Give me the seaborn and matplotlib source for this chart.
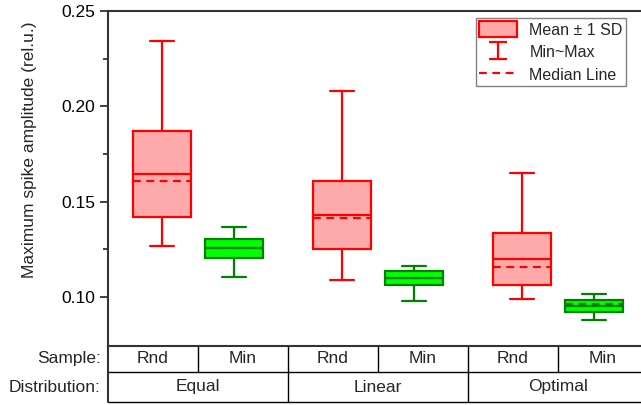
import numpy as np
import pandas as pd
import matplotlib
matplotlib.use("Agg")
import matplotlib.pyplot as plt
from matplotlib.patches import Patch
from matplotlib.lines import Line2D
from matplotlib.ticker import MultipleLocator, FixedLocator, FormatStrFormatter
from matplotlib.legend_handler import HandlerErrorbar
import matplotlib.transforms as mtransforms
import seaborn as sns

# ---- data -------------------------------------------------------------
distributions = ["Equal", "Linear", "Optimal"]
samples = ["Rnd", "Min"]
# order of every list below: Equal-Rnd, Equal-Min, Linear-Rnd, Linear-Min, Optimal-Rnd, Optimal-Min
means = [0.1646, 0.1255, 0.1432, 0.1101, 0.1198, 0.0954]
sds = [0.0226, 0.0049, 0.0178, 0.0036, 0.0137, 0.0030]
minima = [0.1269, 0.1105, 0.1088, 0.0979, 0.0988, 0.0880]
maxima = [0.2343, 0.1368, 0.2080, 0.1163, 0.1652, 0.1018]
medians = [0.1607, 0.1255, 0.1414, 0.1100, 0.1159, 0.0962]

# ---- layout / style ---------------------------------------------------
group_step = 2.5          # distance between the first boxes of neighbouring groups
box_width = 0.8
cap_width = 0.33
x_lo, x_hi = 0.25, 7.75
y_lo, y_hi = 0.0745, 0.25
FS = 12.5
LW = 1.6
styles = {
    "Rnd": {"face": "#FFAAAA", "edge": "#FF0000"},
    "Min": {"face": "#00FF00", "edge": "#008000"},
}
dash = (0, (3.5, 2.5))

sns.set_theme(style="ticks")
plt.rcParams["font.family"] = ["Liberation Sans", "DejaVu Sans"]
plt.rcParams["font.size"] = FS

# Tidy table for seaborn: each box is given by min, mean-SD, mean, mean+SD, max,
# so quartiles become the SD band, the centre line the mean, whiskers min/max.
rows = []
for d_i, dist in enumerate(distributions):
    for s_i, samp in enumerate(samples):
        k = 2 * d_i + s_i
        pos = 1 + d_i * group_step + s_i
        for v in (minima[k], means[k] - sds[k], means[k], means[k] + sds[k], maxima[k]):
            rows.append({"distribution": dist, "sample": samp, "pos": pos, "value": v})
df = pd.DataFrame(rows)
positions = [1 + d_i * group_step + s_i for d_i in range(len(distributions))
             for s_i in range(len(samples))]

W, H = 641, 405
fig = plt.figure(figsize=(W / 100, H / 100), dpi=100)
ax_left, ax_top, ax_bottom = 108, 11, 345.7
ax_w = (x_hi - x_lo) * 72
ax = fig.add_axes([ax_left / W, 1 - ax_bottom / H, ax_w / W, (ax_bottom - ax_top) / H])

for samp in samples:
    sub = df[df["sample"] == samp]
    st = styles[samp]
    sns.boxplot(
        data=sub, x="pos", y="value", native_scale=True,
        width=box_width / group_step, whis=(0, 100), showfliers=False,
        color=st["face"], linecolor=st["edge"], saturation=1, linewidth=LW,
        ax=ax,
    )

# narrower whisker caps
for ln in ax.lines:
    xd = np.asarray(ln.get_xdata(), dtype=float)
    yd = np.asarray(ln.get_ydata(), dtype=float)
    if len(xd) == 2 and yd[0] == yd[1] and 0.1 < abs(xd[1] - xd[0]) < 0.7:
        c = xd.mean()
        ln.set_xdata([c - cap_width / 2, c + cap_width / 2])

# dashed median lines
for k, pos in enumerate(positions):
    samp = samples[k % 2]
    ax.hlines(medians[k], pos - box_width / 2, pos + box_width / 2,
              colors=styles[samp]["edge"], linestyles=dash,
              linewidth=LW, zorder=5)

# ---- axes cosmetics ---------------------------------------------------
ax.set_xlim(x_lo, x_hi)
ax.set_ylim(y_lo, y_hi)
ax.set_xlabel("")
ax.set_xticks([])
ax.yaxis.set_major_locator(MultipleLocator(0.05))
ax.yaxis.set_minor_locator(FixedLocator([0.125, 0.175, 0.225]))
ax.yaxis.set_major_formatter(FormatStrFormatter("%.2f"))
ax.tick_params(axis="y", which="major", length=6, width=1.3, pad=3,
               labelsize=FS, color="#333333", labelcolor="black")
ax.tick_params(axis="y", which="minor", length=3.5, width=1.3, color="#333333")
ax.set_ylabel("Maximum spike amplitude (rel.u.)", fontsize=FS)
ax.yaxis.set_label_coords(-0.131, 0.585)
for side in ["top", "left", "bottom"]:
    ax.spines[side].set_visible(True)
    ax.spines[side].set_color("#333333")
    ax.spines[side].set_linewidth(1.5)
ax.spines["right"].set_visible(False)

# ---- legend -----------------------------------------------------------
LFS = 11.5
eb = ax.errorbar([np.nan], [np.nan], yerr=[[np.nan], [np.nan]], fmt="none",
                 ecolor="#FF0000", elinewidth=LW, capsize=6.5, capthick=LW)
handles = [
    Patch(facecolor="#FFAAAA", edgecolor="#FF0000", linewidth=LW),
    eb,
    Line2D([0], [0], color="#FF0000", linestyle=dash, linewidth=LW),
]
labels = ["Mean \u00b1 1 SD", "Min~Max", "Median Line"]
leg = ax.legend(handles, labels, loc="upper right",
                bbox_to_anchor=(626 / W, 1 - 18 / H), bbox_transform=fig.transFigure,
                fontsize=LFS, frameon=True, fancybox=False, framealpha=1,
                edgecolor="#808080", borderpad=0.2, borderaxespad=0,
                handlelength=2.4, handleheight=1.15, handletextpad=0.75,
                labelspacing=0.4,
                handler_map={type(eb): HandlerErrorbar(xerr_size=0.5, yerr_size=0.55)})
leg.get_frame().set_linewidth(1.0)

# ---- category table under the plot -----------------------------------
tr = mtransforms.blended_transform_factory(ax.transData, ax.transAxes)
ax_h = ax_bottom - ax_top
row1 = -(372 - ax_bottom) / ax_h
row2 = -(402 - ax_bottom) / ax_h
line_kw = dict(color="black", linewidth=1.0, transform=tr, clip_on=False)

# horizontal rules
ax.plot([x_lo, x_hi], [row1, row1], **line_kw)
ax.plot([x_lo, x_hi], [row2, row2], **line_kw)
ax.plot([x_lo, x_lo], [0, row2], color="#333333", linewidth=1.5,
        transform=tr, clip_on=False)

# cell borders: between samples (upper row) and between groups (both rows)
edges = [x_lo] + [(positions[i] + positions[i + 1]) / 2 for i in range(len(positions) - 1)] + [x_hi]
for i in range(1, len(edges) - 1):
    bottom = row2 if i % 2 == 0 else row1
    ax.plot([edges[i], edges[i]], [0, bottom], **line_kw)

for i in range(len(positions)):
    ax.text((edges[i] + edges[i + 1]) / 2, (0 + row1) / 2, samples[i % 2],
            ha="center", va="center", fontsize=FS, transform=tr)
for d_i, dist in enumerate(distributions):
    ax.text((edges[2 * d_i] + edges[2 * d_i + 2]) / 2, (row1 + row2) / 2, dist,
            ha="center", va="center", fontsize=FS, transform=tr)

lab_tr = mtransforms.blended_transform_factory(fig.transFigure, ax.transAxes)
ax.text(101 / W, (0 + row1) / 2, "Sample:", ha="right", va="center",
        fontsize=FS, transform=lab_tr)
ax.text(101 / W, (row1 + row2) / 2, "Distribution:", ha="right", va="center",
        fontsize=FS, transform=lab_tr)

fig.savefig("out.png", dpi=100)
